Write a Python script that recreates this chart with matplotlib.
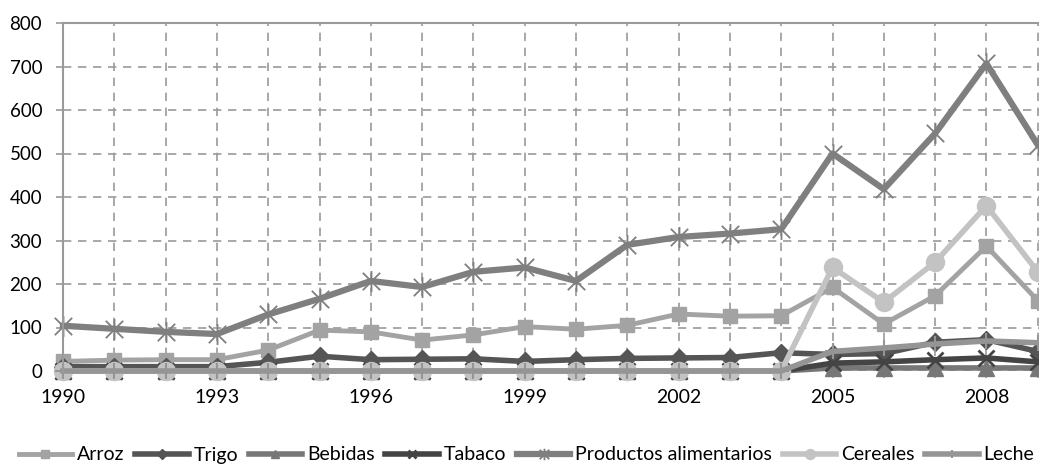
import numpy as np
import matplotlib
matplotlib.use("Agg")
import matplotlib.pyplot as plt
from matplotlib.path import Path

plt.rcParams["font.family"] = ["Lato", "DejaVu Sans"]

# data
years = list(range(1990, 2010))
arroz = [22, 25, 26, 26, 48, 94, 90, 71, 83, 102, 96, 105, 131, 126, 127, 192, 108, 173, 287, 162]
trigo = [10, 10, 10, 10, 20, 34, 26, 27, 28, 22, 26, 29, 30, 31, 42, 38, 40, 66, 72, 45]
bebidas = [0] * 15 + [7, 7, 7, 7, 7]
tabaco = [0] * 15 + [18, 21, 26, 30, 21]
productos = [104, 97, 90, 85, 130, 166, 207, 193, 228, 238, 207, 290, 308, 316, 326, 500, 418, 546, 707, 520]
cereales = [0] * 15 + [238, 158, 250, 380, 228]
leche = [0] * 15 + [45, 53, 62, 69, 65]

tick_years = [1990, 1993, 1996, 1999, 2002, 2005, 2008]

# asterisk marker: X plus vertical bar
star = Path([(-1, -1), (1, 1), (-1, 1), (1, -1), (0, -1.2), (0, 1.2)],
            [Path.MOVETO, Path.LINETO, Path.MOVETO, Path.LINETO, Path.MOVETO, Path.LINETO])

fig = plt.figure(figsize=(10.39, 4.67), dpi=100)
ax = fig.add_axes([63 / 1039, 96 / 467, 21 * 51.3 / 1039, 348 / 467])

kw = dict(clip_on=False)
ax.plot(years, arroz, color="#a3a3a3", lw=3.5, marker="s", ms=10, label="Arroz", **kw)
ax.plot(years, trigo, color="#555555", lw=4, marker="D", ms=9, label="Trigo", **kw)
ax.plot(years, bebidas, color="#777777", lw=4, marker="^", ms=11, label="Bebidas", **kw)
ax.plot(years, tabaco, color="#444444", lw=4, marker="x", ms=11, mew=2, label="Tabaco", **kw)
ax.plot(years, productos, color="#7f7f7f", lw=4.5, marker=star, ms=15, mew=1.3,
        label="Productos alimentarios", **kw)
ax.plot(years, cereales, color="#c3c3c3", lw=4, marker="o", ms=13, label="Cereales", **kw)
ax.plot(years, leche, color="#959595", lw=4, marker="+", ms=11, mew=1.5, label="Leche", **kw)

ax.set_xlim(1990, 2011)
ax.set_ylim(0, 800)
ax.set_xticks(range(1990, 2012))
ax.set_xticklabels([str(y) if y in tick_years else "" for y in range(1990, 2012)])
ax.set_yticks(range(0, 801, 100))
ax.grid(True, color="#9a9a9a", linestyle=(0, (5, 4)), lw=1.2)
ax.tick_params(colors="#9a9a9a", labelcolor="black", labelsize=14, length=5, width=1.2)
ax.tick_params(axis="y", pad=10, labelsize=13.5)
ax.tick_params(axis="x", pad=8)
for s in ["right", "bottom"]:
    ax.spines[s].set_visible(False)
for s in ["left", "top"]:
    ax.spines[s].set_color("#9a9a9a")
    ax.spines[s].set_linewidth(1.5)

fig.legend(loc="center left", bbox_to_anchor=(1 / 1039, 12 / 467), ncol=7, frameon=False,
           fontsize=14, handlelength=2.75, handletextpad=0.25, columnspacing=0.55,
           markerscale=0.55)

fig.savefig("out.png", dpi=100)
